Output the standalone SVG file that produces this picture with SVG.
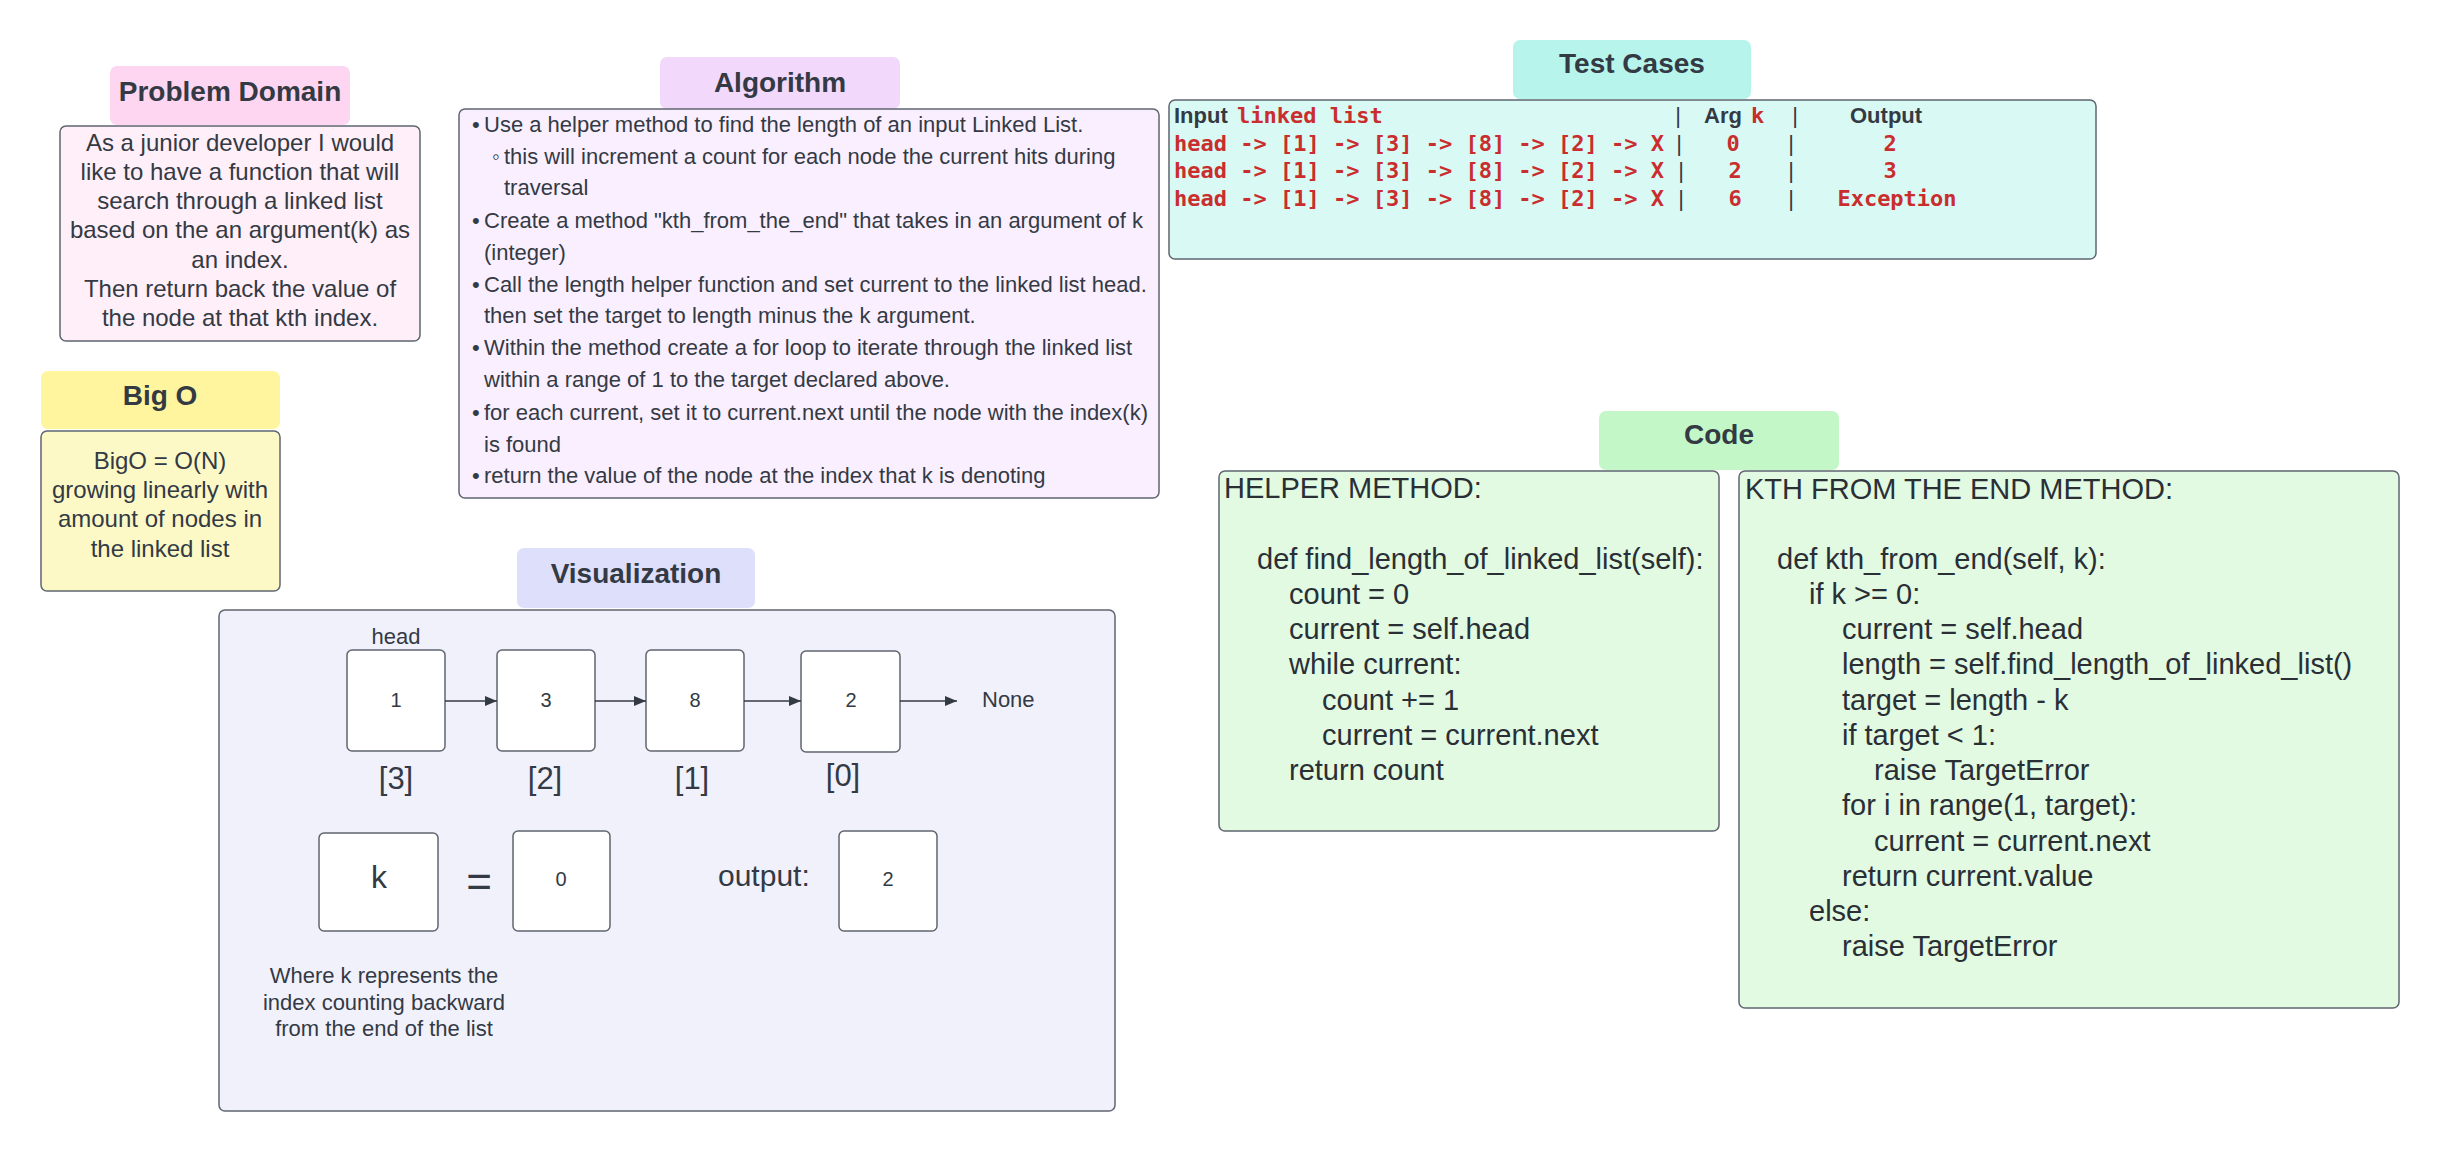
<svg xmlns="http://www.w3.org/2000/svg" width="2439" height="1151" viewBox="0 0 2439 1151">
<defs>
<marker id="arr" viewBox="0 0 12 10" refX="12" refY="5" markerWidth="12" markerHeight="10" markerUnits="userSpaceOnUse" orient="auto">
<path d="M0,0 L12,5 L0,10 Z" fill="#333a44"/>
</marker>
<style>
text{font-family:"Liberation Sans",Arial,sans-serif;fill:#333a44}
.hd{font-size:28px;font-weight:bold;text-anchor:middle}
.hbox{stroke:none}
.box{stroke:#5f6670;stroke-width:1.5}
.b24{font-size:24px;text-anchor:middle}
.alg{font-size:22px}
.mono{font-family:"DejaVu Sans Mono","Liberation Mono",monospace;font-weight:bold;font-size:22px;fill:#c92d2d}
.mid{text-anchor:middle}
.tb{font-size:22px;font-weight:bold}
.pipe{font-size:22px;text-anchor:middle}
.code{font-size:29px;fill:#2a2f36}
.node{fill:#ffffff;stroke:#5f6670;stroke-width:1.5}
.nv{font-size:20px;text-anchor:middle}
.idx{font-size:31px;text-anchor:middle}
.c22{font-size:22px;text-anchor:middle}
.l22{font-size:22px}
.conn{stroke:#333a44;stroke-width:1.5;fill:none}
</style>
</defs>
<rect width="2439" height="1151" fill="#ffffff"/>

<g id="problem-domain">
<rect class="hbox" x="110" y="66" width="240" height="59" rx="7" fill="#ffd6f2"/>
<text class="hd" x="230" y="101">Problem Domain</text>
<rect class="box" x="60" y="126" width="360" height="215" rx="6" fill="#ffeff9"/>
<text class="b24" x="240" y="151">As a junior developer I would</text>
<text class="b24" x="240" y="180">like to have a function that will</text>
<text class="b24" x="240" y="209">search through a linked list</text>
<text class="b24" x="240" y="238">based on the an argument(k) as</text>
<text class="b24" x="240" y="268">an index.</text>
<text class="b24" x="240" y="297">Then return back the value of</text>
<text class="b24" x="240" y="326">the node at that kth index.</text>
</g>

<g id="big-o">
<rect class="hbox" x="41" y="371" width="239" height="58" rx="7" fill="#fff59f"/>
<text class="hd" x="160" y="405">Big O</text>
<rect class="box" x="41" y="431" width="239" height="160" rx="6" fill="#fcf9c7"/>
<text class="b24" x="160" y="469">BigO = O(N)</text>
<text class="b24" x="160" y="498">growing linearly with</text>
<text class="b24" x="160" y="527">amount of nodes in</text>
<text class="b24" x="160" y="557">the linked list</text>
</g>

<g id="algorithm">
<rect class="hbox" x="660" y="57" width="240" height="52" rx="7" fill="#f2d8fb"/>
<text class="hd" x="780" y="92">Algorithm</text>
<rect class="box" x="459" y="109" width="700" height="389" rx="6" fill="#faeffe"/>
<text class="alg" x="472" y="132">•</text><text class="alg" x="484" y="132">Use a helper method to find the length of an input Linked List.</text>
<text class="alg" x="492" y="164">◦</text><text class="alg" x="504" y="164">this will increment a count for each node the current hits during</text>
<text class="alg" x="504" y="195">traversal</text>
<text class="alg" x="472" y="228">•</text><text class="alg" x="484" y="228">Create a method "kth_from_the_end" that takes in an argument of k</text>
<text class="alg" x="484" y="260">(integer)</text>
<text class="alg" x="472" y="292">•</text><text class="alg" x="484" y="292">Call the length helper function and set current to the linked list head.</text>
<text class="alg" x="484" y="323">then set the target to length minus the k argument.</text>
<text class="alg" x="472" y="355">•</text><text class="alg" x="484" y="355">Within the method create a for loop to iterate through the linked list</text>
<text class="alg" x="484" y="387">within a range of 1 to the target declared above.</text>
<text class="alg" x="472" y="420">•</text><text class="alg" x="484" y="420">for each current, set it to current.next until the node with the index(k)</text>
<text class="alg" x="484" y="452">is found</text>
<text class="alg" x="472" y="483">•</text><text class="alg" x="484" y="483">return the value of the node at the index that k is denoting</text>
</g>

<g id="test-cases">
<rect class="hbox" x="1513" y="40" width="238" height="59" rx="7" fill="#b7f4eb"/>
<text class="hd" x="1632" y="73">Test Cases</text>
<rect class="box" x="1169" y="100" width="927" height="159" rx="6" fill="#d9f9f4"/>
<text class="tb" x="1174" y="123">Input</text>
<text class="mono" x="1237" y="123">linked list</text>
<text class="pipe" x="1678" y="123">|</text>
<text class="tb" x="1704" y="123">Arg</text>
<text class="mono" x="1751" y="123">k</text>
<text class="pipe" x="1795" y="123">|</text>
<text class="tb" x="1850" y="123">Output</text>

<text class="mono" x="1174" y="151">head -&gt; [1] -&gt; [3] -&gt; [8] -&gt; [2] -&gt; X</text>
<text class="pipe" x="1679" y="151">|</text>
<text class="mono mid" x="1733" y="151">0</text>
<text class="pipe" x="1791" y="151">|</text>
<text class="mono mid" x="1890" y="151">2</text>

<text class="mono" x="1174" y="178">head -&gt; [1] -&gt; [3] -&gt; [8] -&gt; [2] -&gt; X</text>
<text class="pipe" x="1681" y="178">|</text>
<text class="mono mid" x="1735" y="178">2</text>
<text class="pipe" x="1791" y="178">|</text>
<text class="mono mid" x="1890" y="178">3</text>

<text class="mono" x="1174" y="206">head -&gt; [1] -&gt; [3] -&gt; [8] -&gt; [2] -&gt; X</text>
<text class="pipe" x="1681" y="206">|</text>
<text class="mono mid" x="1735" y="206">6</text>
<text class="pipe" x="1791" y="206">|</text>
<text class="mono mid" x="1897" y="206">Exception</text>
</g>

<g id="code-header">
<rect class="hbox" x="1599" y="411" width="240" height="59" rx="7" fill="#c3f7c8"/>
<text class="hd" x="1719" y="444">Code</text>
</g>

<g id="helper-method">
<rect class="box" x="1219" y="471" width="500" height="360" rx="6" fill="#e2f9e2"/>
<text class="code" x="1224" y="498">HELPER METHOD:</text>
<text class="code" x="1257" y="569">def find_length_of_linked_list(self):</text>
<text class="code" x="1289" y="604">count = 0</text>
<text class="code" x="1289" y="639">current = self.head</text>
<text class="code" x="1289" y="674">while current:</text>
<text class="code" x="1322" y="710">count += 1</text>
<text class="code" x="1322" y="745">current = current.next</text>
<text class="code" x="1289" y="780">return count</text>
</g>

<g id="kth-method">
<rect class="box" x="1739" y="471" width="660" height="537" rx="6" fill="#e2f9e2"/>
<text class="code" x="1745" y="499">KTH FROM THE END METHOD:</text>
<text class="code" x="1777" y="569">def kth_from_end(self, k):</text>
<text class="code" x="1809" y="604">if k &gt;= 0:</text>
<text class="code" x="1842" y="639">current = self.head</text>
<text class="code" x="1842" y="674">length = self.find_length_of_linked_list()</text>
<text class="code" x="1842" y="710">target = length - k</text>
<text class="code" x="1842" y="745">if target &lt; 1:</text>
<text class="code" x="1874" y="780">raise TargetError</text>
<text class="code" x="1842" y="815">for i in range(1, target):</text>
<text class="code" x="1874" y="851">current = current.next</text>
<text class="code" x="1842" y="886">return current.value</text>
<text class="code" x="1809" y="921">else:</text>
<text class="code" x="1842" y="956">raise TargetError</text>
</g>

<g id="visualization">
<rect class="hbox" x="517" y="548" width="238" height="60" rx="7" fill="#dedffb"/>
<text class="hd" x="636" y="583">Visualization</text>
<rect class="box" x="219" y="610" width="896" height="501" rx="6" fill="#f1f1fc"/>
<text class="c22" x="396" y="644">head</text>
</g>

<g id="node-1">
<rect class="node" x="347" y="650" width="98" height="101" rx="5"/>
<text class="nv" x="396" y="707">1</text>
<text class="idx" x="396" y="789">[3]</text>
</g>
<g id="node-3">
<rect class="node" x="497" y="650" width="98" height="101" rx="5"/>
<text class="nv" x="546" y="707">3</text>
<text class="idx" x="545" y="789">[2]</text>
</g>
<g id="node-8">
<rect class="node" x="646" y="650" width="98" height="101" rx="5"/>
<text class="nv" x="695" y="707">8</text>
<text class="idx" x="692" y="789">[1]</text>
</g>
<g id="node-2">
<rect class="node" x="801" y="651" width="99" height="101" rx="5"/>
<text class="nv" x="851" y="707">2</text>
<text class="idx" x="843" y="786">[0]</text>
</g>
<g id="none">
<text class="l22" x="982" y="707">None</text>
</g>

<g id="k-box">
<rect class="node" x="319" y="833" width="119" height="98" rx="5"/>
<text x="379" y="888" font-size="32" text-anchor="middle">k</text>
</g>
<g id="equals">
<text x="479" y="897" font-size="44" text-anchor="middle">=</text>
</g>
<g id="k-value">
<rect class="node" x="513" y="831" width="97" height="100" rx="5"/>
<text class="nv" x="561" y="886">0</text>
</g>
<g id="output-label">
<text x="718" y="886" font-size="30">output:</text>
</g>
<g id="output-value">
<rect class="node" x="839" y="831" width="98" height="100" rx="5"/>
<text class="nv" x="888" y="886">2</text>
</g>
<g id="caption">
<text class="c22" x="384" y="983">Where k represents the</text>
<text class="c22" x="384" y="1010">index counting backward</text>
<text class="c22" x="384" y="1036">from the end of the list</text>
</g>

<g id="connectors">
<line class="conn" x1="445" y1="701" x2="497" y2="701" marker-end="url(#arr)"/>
<line class="conn" x1="595" y1="701" x2="646" y2="701" marker-end="url(#arr)"/>
<line class="conn" x1="744" y1="701" x2="801" y2="701" marker-end="url(#arr)"/>
<line class="conn" x1="900" y1="701" x2="957" y2="701" marker-end="url(#arr)"/>
</g>
</svg>
